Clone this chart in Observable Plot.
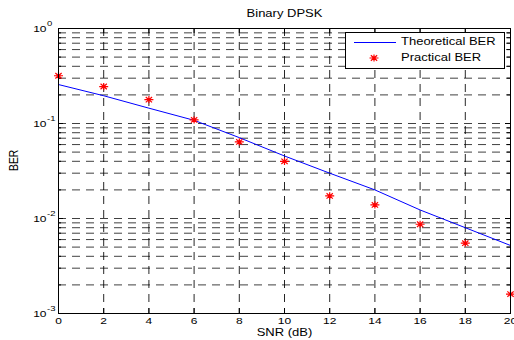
<!DOCTYPE html>
<html><head><meta charset="utf-8">
<script src="https://cdn.jsdelivr.net/npm/d3@7"></script>
<script src="https://cdn.jsdelivr.net/npm/@observablehq/plot@0.6"></script>
<style>html,body{margin:0;padding:0;background:#fff} svg{display:block}</style>
</head><body><div id="chart"></div>
<script>
const title = "Binary DPSK";
const xLabel = "SNR (dB)";
const yLabel = "BER";
const legendLabels = ["Theoretical BER", "Practical BER"];
const snr = [0, 2, 4, 6, 8, 10, 12, 14, 16, 18, 20];
const berTheoretical = [0.257, 0.196, 0.145, 0.108, 0.071, 0.0455, 0.030, 0.020, 0.0123, 0.0080, 0.0052];
const berPractical = [0.318, 0.245, 0.178, 0.109, 0.064, 0.040, 0.0173, 0.0139, 0.0087, 0.0055, 0.0016];
const xTicks = [0, 2, 4, 6, 8, 10, 12, 14, 16, 18, 20];
const yMajorTicks = [0.001, 0.01, 0.1, 1];
const yMajorExps = ["-3", "-2", "-1", "0"];

const yAllTicks = d3.scaleLog().domain([0.001, 1]).ticks();
const yMinorTicks = yAllTicks.filter(v => !yMajorTicks.some(m => Math.abs(m - v) / m < 1e-9));

const W = 514, H = 340, mL = 58, mR = 4, mT = 28, mB = 27;
const innerW = W - mL - mR, innerH = H - mT - mB;
const pts = snr.map((s, i) => ({snr: s, th: berTheoretical[i], pr: berPractical[i]}));
const dash = "8,6";
const star = {
  draw(ctx, size) {
    const r = Math.sqrt(size / Math.PI);
    ctx.moveTo(-r, 0); ctx.lineTo(r, 0);
    ctx.moveTo(0, -r * 0.8); ctx.lineTo(0, r * 0.8);
    const a = r * 0.7, b = r * 0.6;
    ctx.moveTo(-a, -b); ctx.lineTo(a, b);
    ctx.moveTo(-a, b); ctx.lineTo(a, -b);
  }
};

const plot = Plot.plot({
  width: W, height: H,
  marginLeft: mL, marginRight: mR, marginTop: mT, marginBottom: mB,
  style: {fontFamily: "'Liberation Sans', Arial, Helvetica, sans-serif", fontSize: "13px", background: "white", overflow: "visible", color: "black"},
  x: {domain: [0, 20], axis: null},
  y: {type: "log", domain: [0.001, 1], axis: null},
  marks: [
    // grid
    Plot.ruleX(xTicks.slice(1, -1), {x: d => d, stroke: "black", strokeWidth: 1, strokeOpacity: 0.85, strokeDasharray: dash}),
    Plot.ruleY(yAllTicks.slice(1, -1), {y: d => d, stroke: "black", strokeWidth: 1, strokeOpacity: 0.75, strokeDasharray: dash}),
    // ticks
    Plot.ruleX(xTicks, {x: d => d, stroke: "black", insetTop: innerH - 5}),
    Plot.ruleX(xTicks, {x: d => d, stroke: "black", insetBottom: innerH - 5}),
    Plot.ruleY(yMajorTicks, {y: d => d, stroke: "black", insetRight: innerW - 5}),
    Plot.ruleY(yMajorTicks, {y: d => d, stroke: "black", insetLeft: innerW - 5}),
    Plot.ruleY(yMinorTicks, {y: d => d, stroke: "black", insetRight: innerW - 3}),
    Plot.ruleY(yMinorTicks, {y: d => d, stroke: "black", insetLeft: innerW - 3}),
    // data
    Plot.line(pts, {x: "snr", y: "th", stroke: "#0000ff", strokeWidth: 1}),
    Plot.dot(pts, {x: "snr", y: "pr", symbol: star, r: 4.5, fill: "none", stroke: "#ff0000", strokeWidth: 1.2}),
    Plot.frame({stroke: "black", strokeWidth: 1}),
    // tick labels
    Plot.text(xTicks, {x: d => d, frameAnchor: "bottom", lineAnchor: "middle", dy: 7.5, text: d => String(d), fontSize: 12, fill: "black"}),
    Plot.text(yMajorTicks, {y: d => d, frameAnchor: "left", lineAnchor: "middle", dx: -12, textAnchor: "end", text: () => "10", fontSize: 12, fill: "black"}),
    Plot.text(yMajorTicks, {y: d => d, frameAnchor: "left", lineAnchor: "middle", dx: -11.5, dy: -4.5, textAnchor: "start", text: (d, i) => yMajorExps[i], fontSize: 9.5, fill: "black"}),
    // labels
    Plot.text([xLabel], {frameAnchor: "bottom", lineAnchor: "middle", dy: 19.5, text: d => d, fill: "black"}),
    Plot.text([yLabel], {frameAnchor: "left", lineAnchor: "middle", dx: -45, rotate: -90, text: d => d, fill: "black"}),
    Plot.text([title], {frameAnchor: "top", lineAnchor: "middle", dy: -14.5, text: d => d, fill: "black"})
  ]
});

// legend
const svg = d3.select(plot);
const lg = svg.append("g")
  .attr("font-family", "'Liberation Sans', Arial, sans-serif")
  .attr("font-size", 13)
  .attr("text-anchor", "start");
lg.append("rect").attr("x", 345.5).attr("y", 32.5).attr("width", 159).attr("height", 36)
  .style("fill", "#ffffff").style("fill-opacity", 1).style("stroke", "#000000").style("stroke-width", 1);
lg.append("line").attr("x1", 354).attr("x2", 396).attr("y1", 42.5).attr("y2", 42.5)
  .style("stroke", "#0000ff").style("stroke-width", 1);
lg.append("path").attr("transform", "translate(374,58)")
  .attr("d", d3.symbol(star, Math.PI * 4.5 * 4.5)())
  .style("fill", "none").style("stroke", "#ff0000").style("stroke-width", 1.2);
legendLabels.forEach((t, i) => {
  lg.append("text").attr("transform", `translate(401,${42 + i * 16})`)
    .attr("dy", "0.32em").attr("text-anchor", "start").style("fill", "#000000").text(t);
});

// mimic the vertically compressed glyphs of the reference
plot.querySelectorAll("text").forEach(t => {
  const tr = t.getAttribute("transform") || "";
  const s = /rotate/.test(tr) ? " scale(0.8,1)" : " scale(1,0.8)";
  t.setAttribute("transform", tr + s);
});

document.getElementById("chart").appendChild(plot);
</script>
</body></html>
